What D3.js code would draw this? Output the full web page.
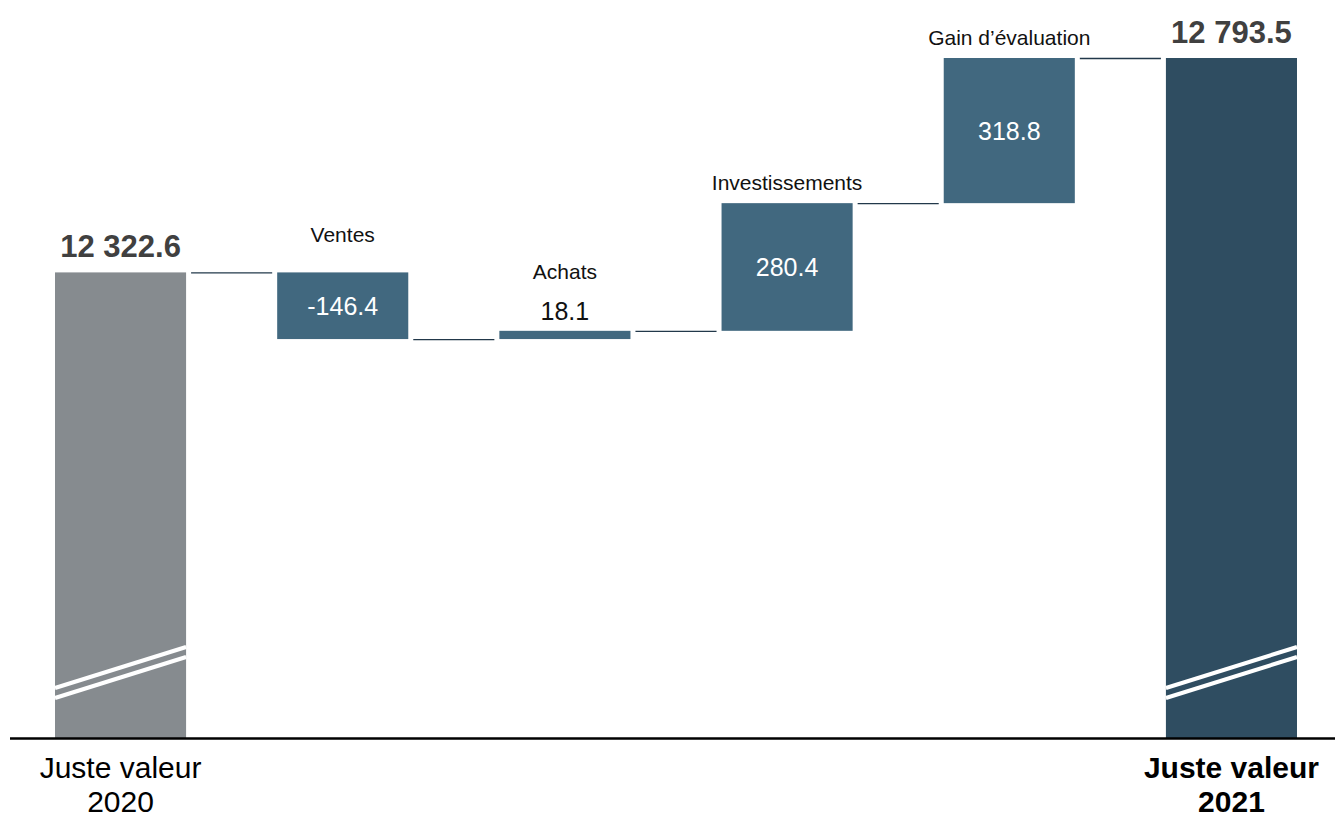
<!DOCTYPE html>
<html>
<head>
<meta charset="utf-8">
<script src="https://cdn.jsdelivr.net/npm/d3@7"></script>
<style>
  body { margin: 0; background: #fff; }
  text { font-family: "Liberation Sans", Arial, sans-serif; }
</style>
</head>
<body>
<div id="chart"></div>
<script>
// waterfall data
var categories = ["Juste valeur 2020", "Ventes", "Achats", "Investissements", "Gain d\u2019évaluation", "Juste valeur 2021"];
var values = [12322.6, -146.4, 18.1, 280.4, 318.8, 12793.5];
var kinds = ["total", "delta", "delta", "delta", "delta", "total"];
var valueLabels = ["12 322.6", "-146.4", "18.1", "280.4", "318.8", "12 793.5"];
var bottomLines = [["Juste valeur", "2020"], null, null, null, null, ["Juste valeur", "2021"]];
var axisBase = 11300; // broken axis, totals start here

var svgWidth = 1335;
var svgHeight = 820;

var svg = d3.select("#chart")
  .append("svg")
  .attr("width", svgWidth)
  .attr("height", svgHeight);

// build running totals
var rows = [];
var running = 0;
categories.forEach(function(c, i) {
  var start, end;
  if (kinds[i] === "total") {
    start = axisBase;
    end = values[i];
    running = values[i];
  } else {
    start = running;
    end = running + values[i];
    running = end;
  }
  rows.push({ name: c, value: values[i], kind: kinds[i], start: start, end: end,
              label: valueLabels[i], bottom: bottomLines[i], i: i });
});

var x = d3.scaleBand()
  .domain(categories)
  .range([55, 1297])
  .paddingInner(0.41)
  .paddingOuter(0);

var y = d3.scaleLinear()
  .domain([axisBase, 12793.5])
  .range([738, 58]);

var colors = { first: "#868b8f", delta: "#41687f", last: "#2f4d61" };

function barColor(d) {
  if (d.kind === "delta") return colors.delta;
  return d.i === 0 ? colors.first : colors.last;
}

// bars
var bars = svg.append("g");
bars.selectAll("rect")
  .data(rows)
  .enter()
  .append("rect")
  .attr("x", d => x(d.name))
  .attr("width", x.bandwidth())
  .attr("y", d => y(Math.max(d.start, d.end)))
  .attr("height", d => Math.abs(y(d.start) - y(d.end)))
  .attr("fill", barColor);

// break marks on the total bars
var breaks = svg.append("g");
rows.filter(d => d.kind === "total").forEach(function(d) {
  [0, 10].forEach(function(off) {
    breaks.append("line")
      .attr("x1", x(d.name))
      .attr("x2", x(d.name) + x.bandwidth())
      .attr("y1", y(axisBase) - 50 + off)
      .attr("y2", y(axisBase) - 91 + off)
      .attr("stroke", "#fff")
      .attr("stroke-width", 4);
  });
});

// connectors
var conn = svg.append("g");
for (var k = 0; k < rows.length - 1; k++) {
  conn.append("line")
    .attr("x1", x(rows[k].name) + x.bandwidth() + 5)
    .attr("x2", x(rows[k + 1].name) - 5)
    .attr("y1", y(rows[k].end) + 0.5)
    .attr("y2", y(rows[k].end) + 0.5)
    .attr("stroke", "#22384a")
    .attr("stroke-width", 1.3);
}

// axis line
svg.append("line")
  .attr("x1", 10)
  .attr("x2", svgWidth)
  .attr("y1", y(axisBase) + 0.5)
  .attr("y2", y(axisBase) + 0.5)
  .attr("stroke", "#000")
  .attr("stroke-width", 2.5);

var labels = svg.append("g").attr("text-anchor", "middle");

rows.forEach(function(d) {
  var cx = x(d.name) + x.bandwidth() / 2;
  var top = y(Math.max(d.start, d.end));
  var bottom = y(Math.min(d.start, d.end));
  if (d.kind === "total") {
    labels.append("text")
      .attr("x", cx)
      .attr("y", top - 15)
      .attr("font-size", 31)
      .attr("font-weight", "bold")
      .attr("fill", "#404040")
      .text(d.label);
    d.bottom.forEach(function(line, j) {
      labels.append("text")
        .attr("x", cx)
        .attr("y", 778 + j * 34)
        .attr("font-size", 30)
        .attr("font-weight", d.i === 0 ? "normal" : "bold")
        .attr("fill", "#000")
        .text(line);
    });
  } else {
    var h = bottom - top;
    var inside = h > 40;
    var catY;
    if (inside) {
      labels.append("text")
        .attr("x", cx)
        .attr("y", (top + bottom) / 2 + 9)
        .attr("font-size", 25)
        .attr("fill", "#fff")
        .text(d.label);
      catY = d.value < 0 ? top - 30 : top - 13;
    } else {
      labels.append("text")
        .attr("x", cx)
        .attr("y", top - 11)
        .attr("font-size", 25)
        .attr("fill", "#111")
        .text(d.label);
      catY = top - 52;
    }
    labels.append("text")
      .attr("x", cx)
      .attr("y", catY)
      .attr("font-size", 21)
      .attr("fill", "#111")
      .text(d.name);
  }
});
</script>
</body>
</html>
